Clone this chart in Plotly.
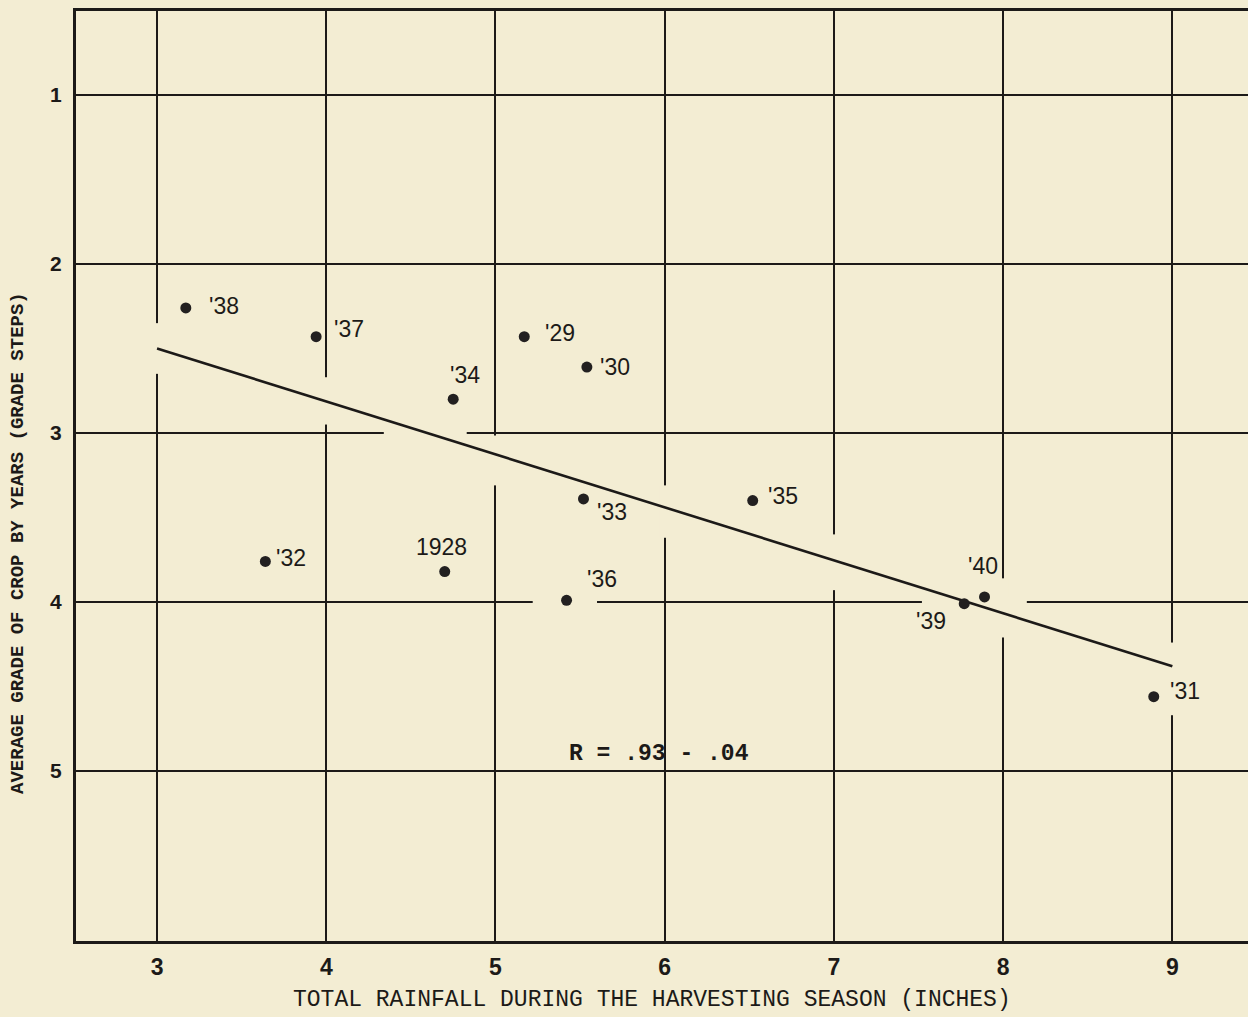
import plotly.graph_objects as go

# ---- data ----
year_labels = ["1928", "'29", "'30", "'31", "'32", "'33", "'34", "'35", "'36", "'37", "'38", "'39", "'40"]
rainfall = [4.70, 5.17, 5.54, 8.89, 3.64, 5.52, 4.75, 6.52, 5.42, 3.94, 3.17, 7.77, 7.89]
grade = [3.82, 2.43, 2.61, 4.56, 3.76, 3.39, 2.80, 3.40, 3.99, 2.43, 2.26, 4.01, 3.97]

fit_x = [3.0, 9.0]
fit_y = [2.50, 4.38]

x_ticks = [3, 4, 5, 6, 7, 8, 9]
y_ticks = [1, 2, 3, 4, 5]

r_text = "R = .93 - .04"
x_title = "TOTAL RAINFALL DURING THE HARVESTING SEASON (INCHES)"
y_title = "AVERAGE GRADE OF CROP BY YEARS (GRADE STEPS)"

# ---- styling ----
BG = "#f3edd3"
INK = "#1c1a18"
LABEL_FONT = "Liberation Sans, Arial, sans-serif"
TYPE_FONT = "Liberation Mono, Courier New, monospace"

# label placement per year: (xanchor, xshift px, yshift px)
label_place = {
    "1928": ("center", -3, 25),
    "'29": ("left", 19, 4),
    "'30": ("left", 11, 0),
    "'31": ("left", 14, 6),
    "'32": ("left", 9, 3),
    "'33": ("left", 12, -13),
    "'34": ("center", 12, 24),
    "'35": ("left", 13, 5),
    "'36": ("left", 18, 21),
    "'37": ("left", 16, 8),
    "'38": ("left", 21, 2),
    "'39": ("right", -16, -17),
    "'40": ("center", -2, 31),
}

# breaks in the hand-drawn grid (style only)
v_gaps = [(3, 2.35, 2.65), (4, 2.67, 2.95), (5, 3.015, 3.31), (6, 3.31, 3.62),
          (7, 3.60, 3.93), (8, 3.86, 4.21), (9, 4.24, 4.67)]
h_gaps = [(3, 4.34, 4.83), (4, 5.22, 5.60), (4, 7.52, 8.14)]

fig = go.Figure()

fig.add_trace(go.Scatter(
    x=fit_x, y=fit_y, mode="lines",
    line=dict(color=INK, width=2.6), hoverinfo="skip", showlegend=False))

fig.add_trace(go.Scatter(
    x=rainfall, y=grade, mode="markers",
    marker=dict(color="#222020", size=11),
    text=year_labels, showlegend=False))

annotations = []
for lab, xv, yv in zip(year_labels, rainfall, grade):
    anchor, dx, dy = label_place[lab]
    annotations.append(dict(
        x=xv, y=yv, xref="x", yref="y", text=lab, showarrow=False,
        xanchor=anchor, yanchor="middle", xshift=dx, yshift=dy,
        font=dict(family=LABEL_FONT, size=23, color=INK)))

annotations.append(dict(
    x=5.965, y=4.9, xref="x", yref="y", text=r_text, showarrow=False,
    xanchor="center", yanchor="middle",
    font=dict(family=TYPE_FONT, size=23, color=INK, weight="bold")))

annotations.append(dict(
    x=0.4915, y=-0.0634, xref="paper", yref="paper", text=x_title, showarrow=False,
    xanchor="center", yanchor="middle",
    font=dict(family=TYPE_FONT, size=23, color=INK)))

annotations.append(dict(
    x=-0.0495, y=0.428, xref="paper", yref="paper", text=y_title, showarrow=False,
    textangle=-90, xanchor="center", yanchor="middle",
    font=dict(family=TYPE_FONT, size=19, color=INK, weight="bold")))

shapes = []
for xv, y0, y1 in v_gaps:
    shapes.append(dict(type="rect", xref="x", yref="y", x0=xv - 0.03, x1=xv + 0.03,
                       y0=y0, y1=y1, fillcolor=BG, line=dict(width=0), layer="between"))
for yv, x0, x1 in h_gaps:
    shapes.append(dict(type="rect", xref="x", yref="y", x0=x0, x1=x1,
                       y0=yv - 0.03, y1=yv + 0.03, fillcolor=BG, line=dict(width=0), layer="between"))

fig.update_layout(
    width=1248, height=1017,
    margin=dict(l=76, r=0, t=11, b=76),
    paper_bgcolor=BG, plot_bgcolor=BG,
    showlegend=False,
    annotations=annotations,
    shapes=shapes,
    xaxis=dict(
        range=[2.521, 9.447], tickvals=x_ticks, ticktext=[str(v) for v in x_ticks],
        showgrid=True, gridcolor=INK, gridwidth=2, zeroline=False,
        showline=True, linecolor=INK, linewidth=3, mirror=True,
        ticks="", ticklabelstandoff=3,
        tickfont=dict(family=LABEL_FONT, size=23, color=INK, weight="bold")),
    yaxis=dict(
        range=[6.006, 0.503], tickvals=y_ticks, ticktext=[str(v) for v in y_ticks],
        showgrid=True, gridcolor=INK, gridwidth=2, zeroline=False,
        showline=True, linecolor=INK, linewidth=3, mirror=False,
        ticks="", ticklabelstandoff=7,
        tickfont=dict(family=LABEL_FONT, size=21, color=INK, weight="bold")),
)

fig.write_html(
    "out.html",
    config={"displayModeBar": False},
    post_script="document.body.style.margin='0';document.body.style.background='%s';"
                "document.documentElement.style.background='%s';" % (BG, BG))
